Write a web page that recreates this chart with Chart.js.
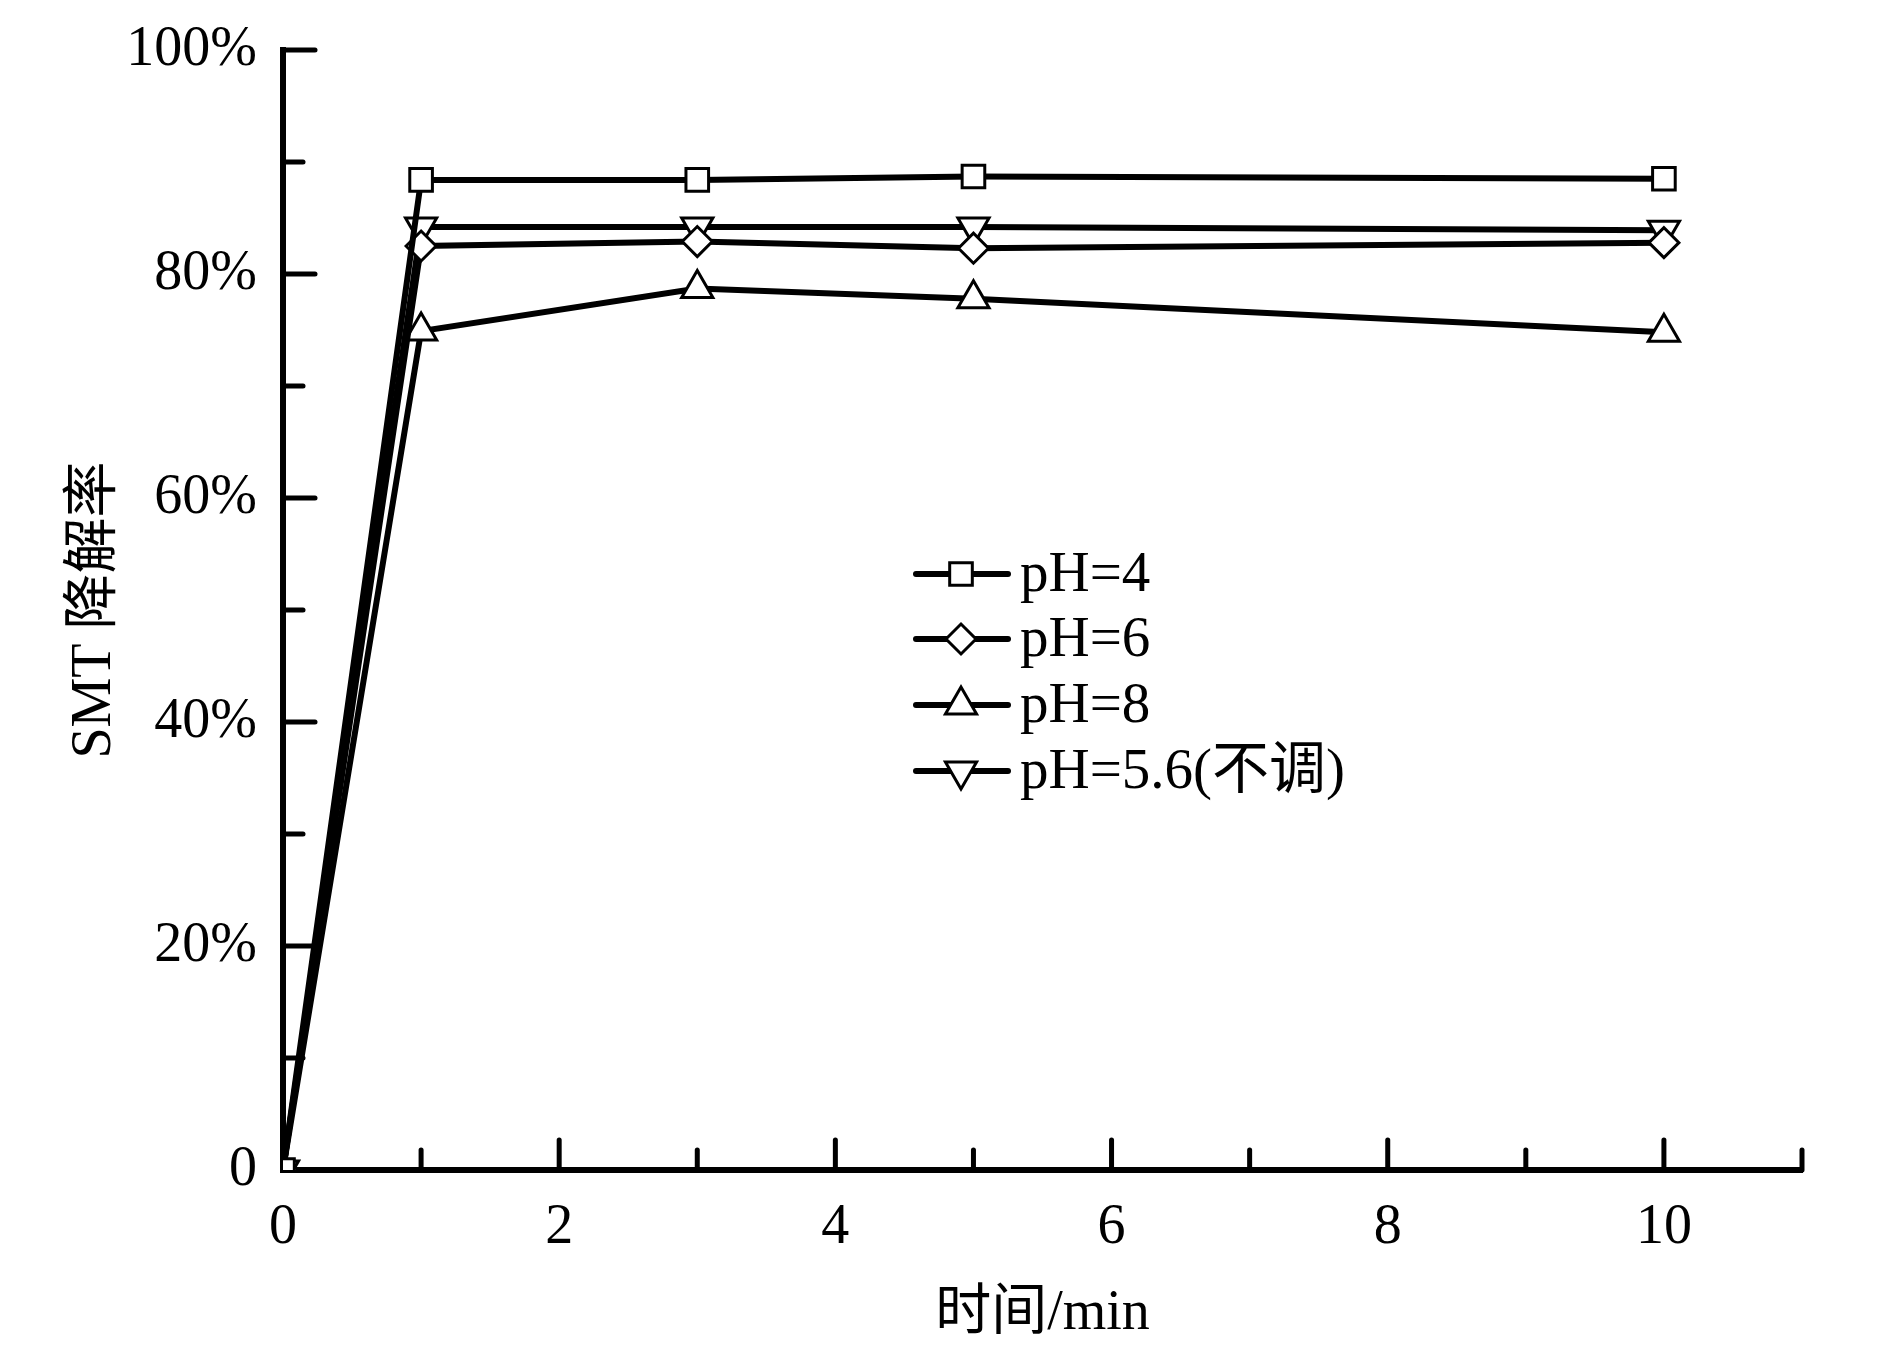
<!DOCTYPE html>
<html>
<head>
<meta charset="utf-8">
<script src="https://cdn.jsdelivr.net/npm/chart.js@4/dist/chart.umd.min.js"></script>
<style>
html,body{margin:0;padding:0;background:#fff;}
#wrap{width:1890px;height:1370px;}
</style>
</head>
<body>
<div id="wrap"><canvas id="c" width="1890" height="1370"></canvas></div>
<script>
// ---- data ----
const times = [0, 1, 3, 5, 10];
const seriesNames = ['pH=4', 'pH=6', 'pH=8', 'pH=5.6(不调)'];
const pH4 = [0, 88.4, 88.4, 88.7, 88.5];
const pH6 = [0, 82.5, 82.9, 82.3, 82.8];
const pH8 = [0, 74.9, 78.7, 77.8, 74.8];
const pH56 = [0, 84.2, 84.2, 84.2, 83.9];
const xMajorTicks = [0, 2, 4, 6, 8, 10];
const xMinorTicks = [1, 3, 5, 7, 9, 11];
const yMajorTicks = [0, 20, 40, 60, 80, 100];
const yMinorTicks = [10, 30, 50, 70, 90];
const xTitle = '时间/min';
const yTitle = 'SMT 降解率';

const FONT = "'Liberation Serif', 'Times New Roman', 'Noto Sans CJK SC', serif";

function mk(name, vals, style, radius, rot) {
  return {
    label: name,
    data: times.map((t, i) => ({x: t, y: vals[i]})),
    borderColor: '#000',
    borderWidth: 6,
    pointStyle: style,
    pointRotation: rot || 0,
    pointRadius: radius,
    pointBackgroundColor: '#fff',
    pointBorderColor: '#000',
    pointBorderWidth: 3,
    tension: 0,
    fill: false
  };
}

const datasets = [
  mk(seriesNames[0], pH4, 'rect', 16),
  mk(seriesNames[1], pH6, 'rectRot', 15),
  mk(seriesNames[2], pH8, 'triangle', 18),
  mk(seriesNames[3], pH56, 'triangle', 18, 180)
];

const inwardTicks = {
  id: 'inwardTicks',
  afterDraw(chart) {
    const ctx = chart.ctx;
    const xs = chart.scales.x, ys = chart.scales.y;
    const x0 = xs.getPixelForValue(0);
    const y0 = ys.getPixelForValue(0);
    ctx.save();
    ctx.strokeStyle = '#000';
    ctx.lineWidth = 5;
    ctx.lineCap = 'round';
    const draw = (x1, y1, x2, y2) => { ctx.beginPath(); ctx.moveTo(x1, y1); ctx.lineTo(x2, y2); ctx.stroke(); };
    xMajorTicks.forEach(v => { if (v === 0) return; const p = xs.getPixelForValue(v); draw(p, y0, p, y0 - 30); });
    xMinorTicks.forEach(v => { const p = xs.getPixelForValue(v); draw(p, y0, p, y0 - 20); });
    yMajorTicks.forEach(v => { if (v === 0) return; const p = ys.getPixelForValue(v); draw(x0, p, x0 + 32, p); });
    yMinorTicks.forEach(v => { const p = ys.getPixelForValue(v); draw(x0, p, x0 + 20, p); });
    ctx.restore();
  }
};

const customLegend = {
  id: 'customLegend',
  afterDraw(chart) {
    const ctx = chart.ctx;
    const lx1 = 916, lx2 = 1008, mx = 961, tx = 1020;
    const rows = [574, 639, 705, 771];
    ctx.save();
    chart.data.datasets.forEach((ds, i) => {
      const y = rows[i];
      ctx.strokeStyle = '#000';
      ctx.lineWidth = 6;
      ctx.lineCap = 'round';
      ctx.beginPath(); ctx.moveTo(lx1, y); ctx.lineTo(lx2, y); ctx.stroke();
      ctx.fillStyle = '#fff';
      ctx.lineWidth = 3;
      Chart.helpers.drawPoint(ctx, {pointStyle: ds.pointStyle, rotation: ds.pointRotation, radius: ds.pointRadius, borderWidth: 3}, mx, y);
      ctx.fillStyle = '#000';
      ctx.font = "57px " + FONT;
      ctx.textBaseline = 'middle';
      ctx.textAlign = 'left';
      ctx.fillText(ds.label, tx, y + 2);
    });
    ctx.restore();
  }
};

new Chart(document.getElementById('c'), {
  type: 'line',
  data: { datasets },
  options: {
    responsive: false,
    animation: false,
    layout: { padding: { left: 0, right: 88, top: 50, bottom: 0 } },
    plugins: { legend: { display: false }, tooltip: { enabled: false } },
    scales: {
      x: {
        type: 'linear',
        min: 0, max: 11,
        afterFit(s) { s.height = 200; s.paddingLeft = 0; s.paddingRight = 0; },
        border: { display: true, color: '#000', width: 6 },
        grid: { display: false, drawTicks: false },
        ticks: {
          stepSize: 1,
          autoSkip: false,
          maxRotation: 0,
          padding: 25,
          color: '#000',
          font: { family: FONT, size: 56 },
          callback: v => (xMajorTicks.includes(v) ? String(v) : '')
        },
        title: {
          display: true, text: xTitle, color: '#000',
          font: { family: FONT, size: 56 },
          padding: { top: 0, bottom: 22 }
        }
      },
      y: {
        type: 'linear',
        min: 0, max: 100,
        afterFit(s) { s.width = 283; s.paddingTop = 0; s.paddingBottom = 0; },
        border: { display: true, color: '#000', width: 6 },
        grid: { display: false, drawTicks: false },
        ticks: {
          stepSize: 20,
          padding: 26,
          color: '#000',
          font: { family: FONT, size: 56 },
          callback: v => (v === 0 ? '0' : v + '%')
        },
        title: {
          display: true, text: yTitle, color: '#000',
          font: { family: FONT, size: 56 },
          padding: { top: 62, bottom: 0 }
        }
      }
    }
  },
  plugins: [inwardTicks, customLegend]
});
</script>
</body>
</html>
